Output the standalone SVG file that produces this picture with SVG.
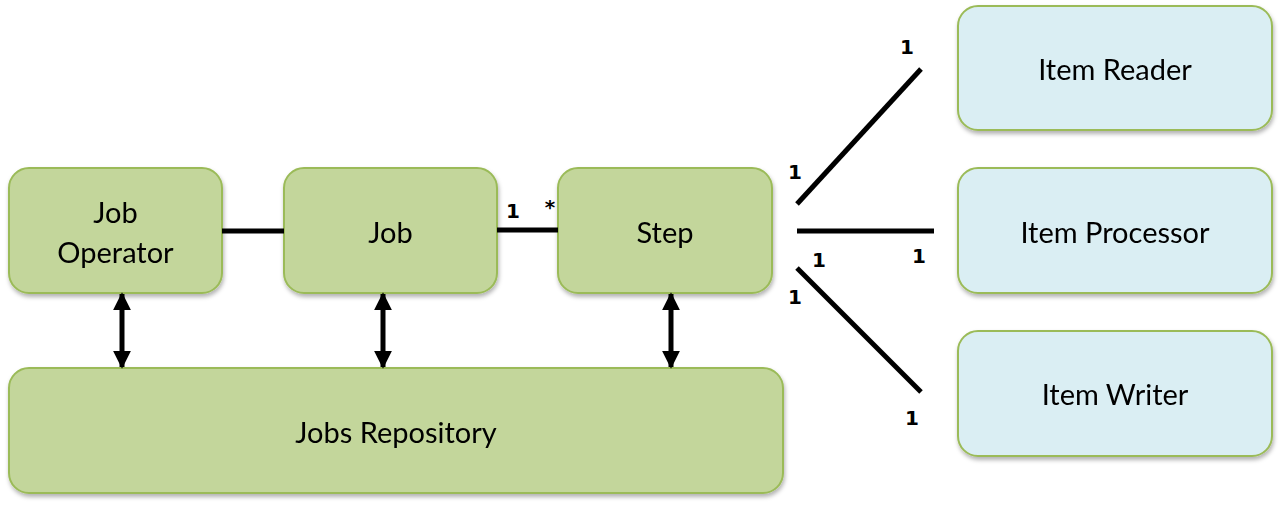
<svg xmlns="http://www.w3.org/2000/svg" width="1281" height="505" viewBox="0 0 1281 505">
<defs>
<filter id="sh" x="-10%" y="-10%" width="120%" height="130%">
<feDropShadow dx="1" dy="3" stdDeviation="2" flood-color="#000" flood-opacity="0.3"/>
</filter>
<marker id="ah" viewBox="0 0 10 10" refX="9" refY="5" markerWidth="3.6" markerHeight="3.6" orient="auto-start-reverse">
<path d="M0,0 L10,5 L0,10 z" fill="#000"/>
</marker>
</defs>
<style>
.g{fill:#C3D69B;stroke:#9BBB59;stroke-width:2}
.b{fill:#DAEEF3;stroke:#9BBB59;stroke-width:2}
.t{font-family:Lato,"Open Sans",sans-serif;font-size:29px;fill:#000;text-anchor:middle}
.n{font-family:"DejaVu Sans",sans-serif;font-weight:bold;font-size:20px;fill:#000;text-anchor:middle}
.c{stroke:#000;stroke-width:5;fill:none}
.v{stroke:#000;stroke-width:5;fill:none;marker-start:url(#ah);marker-end:url(#ah)}
</style>
<g id="job-operator" filter="url(#sh)"><rect class="g" x="9" y="168" width="213" height="125" rx="20"/><text class="t" x="115.5" y="223">Job</text><text class="t" x="115.5" y="263">Operator</text></g>
<g id="job" filter="url(#sh)"><rect class="g" x="284" y="168" width="213" height="125" rx="20"/><text class="t" x="390.5" y="243">Job</text></g>
<g id="step" filter="url(#sh)"><rect class="g" x="558" y="168" width="214" height="125" rx="20"/><text class="t" x="665" y="243">Step</text></g>
<g id="jobs-repository" filter="url(#sh)"><rect class="g" x="9" y="368" width="774" height="125" rx="20"/><text class="t" x="396" y="443">Jobs Repository</text></g>
<g id="item-reader" filter="url(#sh)"><rect class="b" x="958" y="6" width="314" height="124" rx="20"/><text class="t" x="1115" y="80">Item Reader</text></g>
<g id="item-processor" filter="url(#sh)"><rect class="b" x="958" y="168" width="314" height="125" rx="20"/><text class="t" x="1115" y="243">Item Processor</text></g>
<g id="item-writer" filter="url(#sh)"><rect class="b" x="958" y="331" width="314" height="125" rx="20"/><text class="t" x="1115" y="405">Item Writer</text></g>
<g id="connectors">
<line class="c" x1="222" y1="231" x2="284" y2="231"/>
<line class="c" x1="497" y1="230" x2="558" y2="230"/>
<line class="c" x1="797" y1="204" x2="921" y2="69"/>
<line class="c" x1="797" y1="231" x2="934" y2="231"/>
<line class="c" x1="797" y1="268" x2="921" y2="392"/>
<line class="v" x1="122" y1="294" x2="122" y2="367"/>
<line class="v" x1="383" y1="294" x2="383" y2="367"/>
<line class="v" x1="671" y1="294" x2="671" y2="367"/>
<text class="n" x="513" y="218">1</text>
<text class="n" x="550" y="214">*</text>
<text class="n" x="907" y="54">1</text>
<text class="n" x="795" y="179">1</text>
<text class="n" x="819" y="267">1</text>
<text class="n" x="919" y="263">1</text>
<text class="n" x="795" y="304">1</text>
<text class="n" x="912" y="425">1</text>
</g>
</svg>
